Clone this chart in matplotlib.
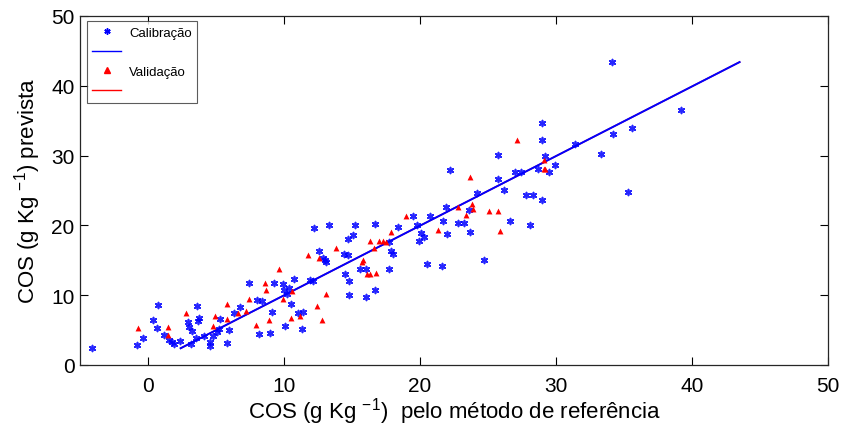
import matplotlib
matplotlib.use("Agg")
import matplotlib.pyplot as plt
from matplotlib.lines import Line2D

plt.rcParams['font.family'] = ['Liberation Sans', 'DejaVu Sans']
plt.rcParams['mathtext.fontset'] = 'custom'
plt.rcParams['mathtext.rm'] = 'Liberation Sans'
plt.rcParams['mathtext.it'] = 'Liberation Sans'

# Calibration set (reference, predicted)
cal_x = [-4.1, -0.83, -0.4, 0.37, 0.74, 0.66, 1.15, 1.57, 1.77, 1.9, 2.38, 2.97, 3.0, 3.24,
         3.63, 3.76, 3.7, 3.56, 3.17, 4.15, 4.54, 4.54, 4.76, 5.05, 5.25, 5.3, 5.94, 5.8,
         6.36, 6.8, 7.4,
         12.2, 13.3, 15.2, 16.7, 18.4, 15.1, 14.7, 12.6, 13.0, 13.1, 12.9, 14.4, 14.7, 15.6,
         14.5, 16.0, 14.8, 17.7, 17.9, 18.0, 17.7, 16.7, 16.0, 14.8, 11.9, 12.1, 10.7, 9.94,
         9.99, 10.4, 10.2, 10.5, 9.3, 8.0, 8.4, 9.1, 11.0, 11.4, 10.1, 11.3, 8.96, 8.15,
         22.2, 27.0, 25.7, 26.2, 24.2, 21.9, 23.6, 19.5, 20.7, 21.7, 19.8, 22.8, 23.2, 26.6,
         22.0, 23.7, 20.1, 20.3, 19.9, 24.7, 20.5, 21.6,
         29.0, 29.0, 25.7, 31.4, 29.2, 29.9, 29.5, 28.7, 27.4, 27.8, 28.3, 29.0, 28.1, 33.3,
         34.1, 39.2, 35.6, 34.2, 35.3]
cal_y = [2.4, 2.8, 3.9, 6.5, 8.6, 5.3, 4.3, 3.6, 3.3, 3.0, 3.5, 6.1, 5.4, 4.8,
         8.4, 6.7, 6.3, 3.9, 3.0, 4.1, 3.3, 2.7, 4.1, 4.7, 5.1, 6.6, 5.0, 3.2,
         7.5, 8.3, 11.8,
         19.6, 20.1, 20.0, 20.2, 19.7, 18.6, 18.0, 16.4, 15.1, 14.7, 15.4, 15.9, 15.7, 13.7,
         13.1, 13.8, 12.1, 13.7, 16.4, 15.9, 17.6, 10.8, 9.7, 10.1, 12.2, 12.1, 12.3, 11.6,
         10.7, 11.1, 10.2, 8.7, 11.8, 9.3, 9.2, 7.6, 7.5, 7.6, 5.6, 5.2, 4.6, 4.5,
         27.9, 27.7, 26.6, 25.1, 24.7, 22.7, 22.2, 21.4, 21.4, 20.7, 20.1, 20.3, 20.4, 20.6,
         18.8, 19.0, 18.9, 18.4, 17.8, 15.0, 14.4, 14.2,
         34.6, 32.2, 30.1, 31.7, 30.0, 28.6, 27.6, 28.1, 27.7, 24.3, 24.3, 23.7, 20.0, 30.3,
         43.4, 36.5, 34.0, 33.1, 24.8]

# Validation set (reference, predicted)
val_x = [-0.7, 1.45, 1.47, 2.82, 4.95, 4.8, 5.8, 5.8, 6.6, 7.2, 7.4, 9.6, 11.8, 12.6, 13.8,
         8.6, 8.64, 9.9, 10.6, 13.1, 12.4, 10.5, 11.2, 12.8, 8.9, 7.95, 16.3, 17.0, 17.3, 17.5,
         17.9, 16.6, 15.7, 15.8, 16.1, 16.3, 16.8, 23.7, 19.0, 21.3, 22.8, 23.8, 23.9, 23.4,
         25.1, 25.7, 25.9, 27.1, 29.1, 29.1, 29.2]
val_y = [5.3, 5.4, 4.3, 7.4, 7.0, 5.6, 6.6, 8.7, 7.5, 7.8, 9.4, 13.7, 15.8, 15.3, 16.7,
         11.8, 10.7, 9.4, 10.6, 10.2, 8.4, 6.7, 7.0, 6.5, 6.4, 5.8, 17.8, 17.8, 17.8, 17.6,
         19.1, 16.7, 14.8, 15.0, 13.1, 13.0, 13.2, 27.0, 21.4, 19.4, 22.6, 23.0, 22.3, 21.5,
         22.0, 22.0, 19.2, 32.2, 29.4, 28.1, 28.1]

# Regression lines
line_x = [2.4, 43.5]
cal_line_y = [2.4, 43.4]
val_line_y = [2.4, 43.4]

x_ticks = [0, 10, 20, 30, 40, 50]
y_ticks = [0, 10, 20, 30, 40, 50]

fig = plt.figure(figsize=(8.43, 4.27), dpi=100)
ax = fig.add_axes([80/843, 61/427, 748/843, 349/427])

ax.plot(line_x, val_line_y, color='red', lw=1.1, zorder=2)
ax.plot(line_x, cal_line_y, color='blue', lw=1.4, zorder=3)
ax.scatter(cal_x, cal_y, marker=(6, 2, 0), s=18, color='blue', linewidths=1.2, alpha=0.85, zorder=4)
ax.scatter(val_x, val_y, marker='^', s=18, color='red', linewidths=0, zorder=4)

ax.set_xlim(-5, 50)
ax.set_ylim(0, 50)
ax.set_xticks(x_ticks)
ax.set_yticks(y_ticks)
ax.tick_params(direction='in', top=True, right=True, length=6, width=0.8,
               labelsize=15, colors='black')
ax.tick_params(axis='x', pad=8)
ax.tick_params(axis='y', pad=4)
for s in ax.spines.values():
    s.set_linewidth(0.9)
    s.set_color('#262626')

ax.set_xlabel(r'COS (g Kg $^{-1}$)  pelo método de referência', fontsize=16, labelpad=0)
ax.set_ylabel(r'COS (g Kg $^{-1}$) prevista', fontsize=16, labelpad=6)

handles = [
    Line2D([], [], marker=(6, 2, 0), color='blue', ls='none', markersize=4.5, mew=1.1),
    Line2D([], [], color='blue', lw=1),
    Line2D([], [], marker='^', color='red', ls='none', markersize=4.5),
    Line2D([], [], color='red', lw=1),
]
labels = ['Calibração', '', 'Validação', '']
leg = ax.legend(handles, labels, loc='upper left', bbox_to_anchor=(0.009, 0.985),
                fontsize=9.5, frameon=True, fancybox=False, edgecolor='#333333',
                handlelength=2.2, borderpad=0.4, labelspacing=0.55, handletextpad=0.6,
                borderaxespad=0)
leg.get_frame().set_linewidth(0.8)

fig.savefig('out.png', dpi=100)
